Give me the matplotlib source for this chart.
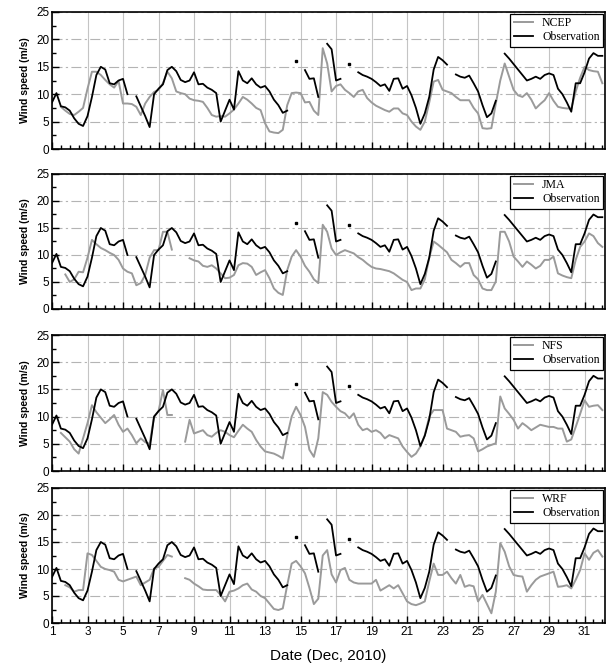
import numpy as np
import matplotlib
matplotlib.use('Agg')
import matplotlib.pyplot as plt
from matplotlib.ticker import MultipleLocator

nan = np.nan

# time axis, 6-hourly through December 2010
days = np.arange(1, 32.01, 0.25)

# observed wind speed (m/s), gaps are missing records
obs = [8.5, 10.2, 7.8, 7.6,
       7.0, 5.6, 4.6, 4.2,
       6.0, 9.5, 13.5, 15.0,
       14.5, 12.0, 11.8, 12.5,
       12.8, 10.0, nan, 9.6,
       7.8, 6.0, 4.0, 10.0,
       11.0, 11.8, 14.4, 15.0,
       14.2, 12.6, 12.2, 12.5,
       14.0, 11.8, 11.9, 11.2,
       10.8, 10.2, 5.0, 7.0,
       9.0, 7.2, 14.2, 12.5,
       12.0, 12.9, 11.8, 11.2,
       11.5, 10.5, 9.0, 8.0,
       6.6, 7.0, nan, 16.0,
       nan, 14.4, 12.8, 12.9,
       9.5, nan, 19.2, 18.2,
       12.5, 12.8, nan, 15.6,
       nan, 14.0, 13.5, 13.2,
       12.8, 12.2, 11.5, 11.8,
       10.6, 12.8, 12.9, 11.0,
       11.5, 9.8, 7.5, 4.6,
       6.5, 9.5, 14.5, 16.8,
       16.2, 15.4, nan, 13.6,
       13.2, 13.0, 13.4, 12.0,
       10.5, 8.0, 5.8, 6.5,
       8.8, nan, 17.4, 16.5,
       15.5, 14.5, 13.5, 12.5,
       12.8, 13.2, 12.8, 13.5,
       13.8, 13.5, 11.0, 10.0,
       8.5, 6.8, 12.0, 12.0,
       14.0, 16.5, 17.5, 17.0,
       17.0]

ncep = [nan, nan, 7.7, 7.0,
        6.4, 6.2, 6.8, 7.5,
        11.0, 14.1, 14.1, 13.5,
        12.6, 11.8, 11.2, 12.4,
        8.3, 8.3, 8.2, 7.7,
        6.2, 8.3, 9.5, 10.4,
        10.8, 12.0, 14.1, 12.9,
        10.5, 10.2, 10.0, 9.2,
        8.9, 8.8, 8.6, 7.5,
        6.2, 5.9, 6.0, 5.9,
        6.5, 7.2, 8.3, 9.5,
        9.0, 8.3, 7.5, 7.1,
        4.7, 3.2, 3.0, 2.9,
        3.5, 8.0, 10.2, 10.3,
        10.2, 8.5, 8.6, 7.0,
        6.2, 18.4, 15.6, 10.5,
        11.5, 11.8, 10.8, 10.2,
        9.5, 10.5, 10.8, 9.3,
        8.5, 7.9, 7.5, 7.1,
        6.8, 7.4, 7.4, 6.5,
        6.2, 5.0, 4.1, 3.5,
        5.0, 8.5, 12.3, 12.6,
        10.8, 10.5, 10.2, 9.5,
        8.9, 8.9, 8.9, 7.5,
        6.5, 3.8, 3.7, 3.8,
        8.3, 12.5, 15.6, 13.2,
        10.8, 9.8, 9.5, 10.2,
        9.0, 7.4, 8.2, 8.9,
        10.2, 8.8, 7.7, 7.5,
        7.4, 7.4, 10.5, 13.0,
        15.0, 14.4, 14.2, 14.1,
        12.0]

jma = [nan, nan, nan, 6.4,
       5.0, 5.5, 6.9, 6.8,
       9.5, 12.8, 12.0, 11.3,
       10.9, 10.4, 10.0, 9.1,
       7.5, 6.9, 6.6, 4.4,
       4.8, 6.3, 9.5, 10.9,
       10.9, 14.3, 14.3, 11.0,
       nan, nan, nan, 9.4,
       9.0, 8.8, 8.0, 7.8,
       8.1, 7.5, 6.6, 5.7,
       5.8, 6.3, 8.1, 8.5,
       8.4, 7.8, 6.3, 6.8,
       7.2, 5.7, 3.8, 3.0,
       2.6, 7.2, 9.7, 10.9,
       9.7, 8.0, 6.9, 5.5,
       4.8, 15.6, 14.3, 11.2,
       10.0, 10.5, 10.9, 10.6,
       10.3, 9.6, 9.1, 8.4,
       7.8, 7.5, 7.4, 7.2,
       7.0, 6.6, 6.0, 5.4,
       5.0, 3.5, 3.8, 3.8,
       5.5, 9.5, 12.5, 11.9,
       11.2, 10.5, 9.1, 8.5,
       7.8, 8.5, 8.5, 6.3,
       5.5, 3.8, 3.5, 3.5,
       5.1, 14.3, 14.3, 12.5,
       9.7, 8.8, 7.8, 8.8,
       8.2, 7.5, 8.0, 9.1,
       9.1, 9.7, 6.6, 6.2,
       5.9, 5.7, 9.1, 11.5,
       12.5, 14.0, 13.5, 12.2,
       11.5]

nfs = [nan, nan, 7.0, 6.2,
       5.4, 4.0, 3.2, 6.0,
       8.8, 12.1, 10.8, 9.8,
       8.8, 9.5, 10.3, 8.5,
       7.2, 7.8, 6.6, 5.1,
       6.0, 5.3, 5.0, 10.0,
       11.0, 14.9, 10.3, 10.3,
       nan, nan, 5.4, 9.4,
       6.9, 7.2, 7.5, 6.6,
       6.3, 7.0, 7.5, 7.2,
       6.6, 6.2, 7.4, 8.5,
       7.8, 7.2, 5.7, 4.5,
       3.6, 3.4, 3.2, 2.8,
       2.3, 6.5, 10.0, 11.8,
       10.3, 8.1, 3.9, 2.6,
       6.0, 14.5, 14.0, 12.7,
       11.8, 11.0, 10.6, 9.7,
       10.6, 8.5, 7.5, 7.8,
       7.2, 7.5, 7.0, 6.0,
       6.6, 6.3, 6.0, 4.5,
       3.5, 2.6, 3.2, 4.5,
       6.6, 10.0, 11.2, 11.2,
       11.2, 7.8, 7.5, 7.2,
       6.3, 6.5, 6.6, 6.0,
       3.6, 4.0, 4.5, 4.8,
       5.1, 13.7, 11.5, 10.5,
       9.4, 7.8, 8.8, 8.2,
       7.5, 8.0, 8.5, 8.3,
       8.1, 8.1, 7.8, 7.8,
       5.4, 5.8, 8.1, 10.5,
       13.0, 11.8, 12.0, 12.1,
       11.2]

wrf = [nan, nan, nan, 7.0,
       6.6, 5.8, 6.1, 6.1,
       12.9, 12.6, 11.5, 10.4,
       10.0, 9.8, 9.5, 8.0,
       7.7, 8.0, 8.3, 8.6,
       7.0, 7.5, 8.0, 10.1,
       10.4, 11.5, 12.6, 12.3,
       nan, nan, 8.3, 8.0,
       7.3, 6.8, 6.2, 6.1,
       6.1, 6.1, 5.2, 4.0,
       5.8, 6.0, 6.4, 7.0,
       7.3, 6.2, 5.8, 5.0,
       4.6, 3.6, 2.6, 2.4,
       2.7, 7.0, 11.0, 11.5,
       10.5, 9.2, 6.5, 3.5,
       4.5, 12.5, 13.5, 9.0,
       7.5, 9.8, 10.2, 8.0,
       7.5, 7.3, 7.3, 7.3,
       7.3, 8.0, 6.0, 6.5,
       7.0, 6.4, 7.0, 5.5,
       4.0, 3.5, 3.3, 3.6,
       4.0, 7.7, 11.0, 8.9,
       8.9, 9.5, 8.3, 7.3,
       8.9, 6.7, 7.0, 6.8,
       4.0, 5.2, 3.5, 1.8,
       5.8, 14.8, 13.2, 10.5,
       8.9, 8.7, 8.6, 5.8,
       7.0, 8.0, 8.6, 8.9,
       9.2, 9.5, 6.7, 6.8,
       7.0, 6.4, 8.0, 9.8,
       12.9, 11.7, 13.0, 13.5,
       12.3]

models = ['NCEP', 'JMA', 'NFS', 'WRF']
model_data = [ncep, jma, nfs, wrf]

obs = np.array(obs)
# single records with gaps on both sides, drawn as dots
prev_nan = np.isnan(np.r_[nan, obs[:-1]])
next_nan = np.isnan(np.r_[obs[1:], nan])
lone = ~np.isnan(obs) & prev_nan & next_nan

fig = plt.figure(figsize=(6.08, 6.66), dpi=100)
W, H = 608, 666
panels = [(12, 149), (174, 309), (335, 471), (488, 623)]

for i, (name, vals) in enumerate(zip(models, model_data)):
    top, bot = panels[i]
    ax = fig.add_axes([52 / W, 1 - bot / H, 553 / W, (bot - top) / H])

    ax.plot(days, vals, color='#9a9a9a', lw=1.4, label=name, zorder=3)
    ax.plot(days, obs, color='black', lw=1.3, label='Observation', zorder=4)
    ax.plot(days[lone], obs[lone], 's', color='black', ms=1.6, zorder=4)

    ax.set_xlim(1, 32.15)
    ax.set_ylim(0, 25)
    ax.set_xticks(np.arange(1, 32, 2))
    ax.set_yticks(np.arange(0, 26, 5))
    ax.xaxis.set_minor_locator(MultipleLocator(0.5))
    ax.yaxis.set_minor_locator(MultipleLocator(2.5))
    ax.tick_params(which='both', direction='in', width=1, top=False, right=False)
    ax.tick_params(which='major', length=5, labelsize=8.5, pad=2)
    ax.tick_params(which='minor', length=3)
    for lab in ax.get_xticklabels() + ax.get_yticklabels():
        lab.set_family('Liberation Sans')

    ax.grid(axis='x', which='major', color='#c4c4c4', lw=0.8, ls='-')
    ax.grid(axis='y', which='major', color='#b4b4b4', lw=0.8, ls=(0, (9, 3, 2, 3)))
    ax.set_axisbelow(True)
    for sp in ax.spines.values():
        sp.set_linewidth(1.2)

    ax.set_ylabel('Wind speed (m/s)', fontsize=7.5, fontweight='bold',
                  family='Liberation Sans', labelpad=4)

    if i < 3:
        ax.set_xticklabels([])
    else:
        ax.set_xlabel('Date (Dec, 2010)', fontsize=11, family='Liberation Sans', labelpad=8)

    leg = ax.legend(loc='upper right', prop={'family': 'Liberation Serif', 'size': 8.5},
                    frameon=True, fancybox=False, edgecolor='black', framealpha=1,
                    handlelength=1.6, handletextpad=0.8, labelspacing=0.15,
                    borderpad=0.3, borderaxespad=0.15)
    leg.get_frame().set_linewidth(0.9)

fig.savefig('out.png', dpi=100)
